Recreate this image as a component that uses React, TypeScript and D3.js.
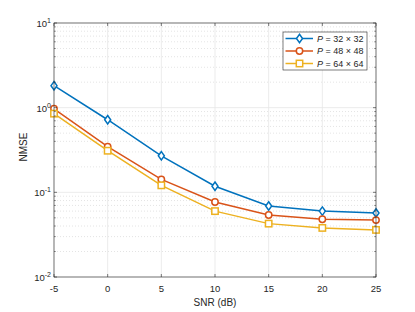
import React from "react";
import * as d3 from "d3";

const snr = [-5, 0, 5, 10, 15, 20, 25];
const p32 = [1.82, 0.72, 0.27, 0.118, 0.069, 0.060, 0.057];
const p48 = [0.97, 0.346, 0.142, 0.077, 0.054, 0.048, 0.047];
const p64 = [0.85, 0.31, 0.121, 0.060, 0.0427, 0.038, 0.036];
const seriesLabels = ["32 × 32", "48 × 48", "64 × 64"];
const xTicks = [-5, 0, 5, 10, 15, 20, 25];
const yExps = [-2, -1, 0, 1];

const W = 415, H = 312;
const L = 54, R = 376, T = 23, B = 277;
const colors = ["#0072BD", "#D95319", "#EDB120"];
const markers = ["diamond", "circle", "square"];

function Marker({ type, x, y, color }: { type: string; x: number; y: number; color: string }) {
  if (type === "circle") return <circle cx={x} cy={y} r={3.2} fill="white" stroke={color} strokeWidth={1.5} />;
  if (type === "square") return <rect x={x - 3.2} y={y - 3.2} width={6.4} height={6.4} fill="white" stroke={color} strokeWidth={1.5} />;
  return <path d={`M${x},${y - 4.2}L${x + 3},${y}L${x},${y + 4.2}L${x - 3},${y}Z`} fill="white" stroke={color} strokeWidth={1.5} />;
}

export default function App() {
  const x = d3.scaleLinear().domain([-5, 25]).range([L, R]);
  const y = d3.scaleLog().domain([0.01, 10]).range([B, T]);
  const data = [p32, p48, p64];
  const line = d3.line<number>().x((_, i) => x(snr[i])).y((d) => y(d));
  const minor: number[] = [];
  for (let e = -2; e < 1; e++) for (let k = 2; k <= 9; k++) minor.push(k * Math.pow(10, e));
  const font = "Helvetica, Arial, 'Liberation Sans', sans-serif";
  const axisC = "#262626";
  return (
    <svg width={W} height={H} style={{ position: "absolute", left: 0, top: 0, background: "white" }} fontFamily={font}>
      <rect x={0} y={0} width={W} height={H} fill="white" />
      {/* minor grid */}
      {minor.map((v, i) => (
        <line key={"m" + i} x1={L} x2={R} y1={y(v)} y2={y(v)} stroke="#d8d8d8" strokeWidth={0.7} strokeDasharray="1,2" />
      ))}
      {/* major grid */}
      {xTicks.map((t) => (
        <line key={"gx" + t} x1={x(t)} x2={x(t)} y1={T} y2={B} stroke="#e6e6e6" strokeWidth={0.8} />
      ))}
      {yExps.map((e) => (
        <line key={"gy" + e} x1={L} x2={R} y1={y(Math.pow(10, e))} y2={y(Math.pow(10, e))} stroke="#e6e6e6" strokeWidth={0.8} />
      ))}
      {/* series */}
      {data.map((s, si) => (
        <g key={"s" + si}>
          <path d={line(s) || ""} fill="none" stroke={colors[si]} strokeWidth={1.5} />
          {s.map((v, i) => (
            <Marker key={i} type={markers[si]} x={x(snr[i])} y={y(v)} color={colors[si]} />
          ))}
        </g>
      ))}
      {/* axes box */}
      <rect x={L} y={T} width={R - L} height={B - T} fill="none" stroke={axisC} strokeWidth={0.6} />
      {/* x ticks */}
      {xTicks.map((t) => (
        <g key={"xt" + t}>
          <line x1={x(t)} x2={x(t)} y1={B} y2={B - 3} stroke={axisC} strokeWidth={0.6} />
          <line x1={x(t)} x2={x(t)} y1={T} y2={T + 3} stroke={axisC} strokeWidth={0.6} />
          <text x={x(t)} y={B + 15} textAnchor="middle" fontSize={9.5} fill={axisC}>{t}</text>
        </g>
      ))}
      {/* y ticks */}
      {yExps.map((e) => (
        <g key={"yt" + e}>
          <line x1={L} x2={L + 3} y1={y(Math.pow(10, e))} y2={y(Math.pow(10, e))} stroke={axisC} strokeWidth={0.6} />
          <line x1={R} x2={R - 3} y1={y(Math.pow(10, e))} y2={y(Math.pow(10, e))} stroke={axisC} strokeWidth={0.6} />
          <text x={L - 3} y={y(Math.pow(10, e)) + 4} textAnchor="end" fontSize={9.5} fill={axisC}>
            10<tspan dy={-4} fontSize={7}>{e}</tspan>
          </text>
        </g>
      ))}
      {minor.map((v, i) => (
        <g key={"mt" + i}>
          <line x1={L} x2={L + 1.8} y1={y(v)} y2={y(v)} stroke={axisC} strokeWidth={0.5} />
          <line x1={R} x2={R - 1.8} y1={y(v)} y2={y(v)} stroke={axisC} strokeWidth={0.5} />
        </g>
      ))}
      {/* axis labels */}
      <text x={(L + R) / 2} y={306} textAnchor="middle" fontSize={10} fill={axisC}>SNR (dB)</text>
      <text transform={`translate(27,${(T + B) / 2 - 3}) rotate(-90)`} textAnchor="middle" fontSize={10} fill={axisC}>NMSE</text>
      {/* legend */}
      <rect x={283} y={32} width={84} height={38} fill="white" stroke={axisC} strokeWidth={0.6} />
      {seriesLabels.map((lab, i) => {
        const ly = 38.5 + i * 12.5;
        return (
          <g key={"lg" + i}>
            <line x1={285.5} x2={313} y1={ly} y2={ly} stroke={colors[i]} strokeWidth={1.5} />
            <Marker type={markers[i]} x={299.5} y={ly} color={colors[i]} />
            <text x={317} y={ly + 3.3} fontSize={9} fill={axisC}>
              <tspan fontStyle="italic">P</tspan> = {lab}
            </text>
          </g>
        );
      })}
    </svg>
  );
}
